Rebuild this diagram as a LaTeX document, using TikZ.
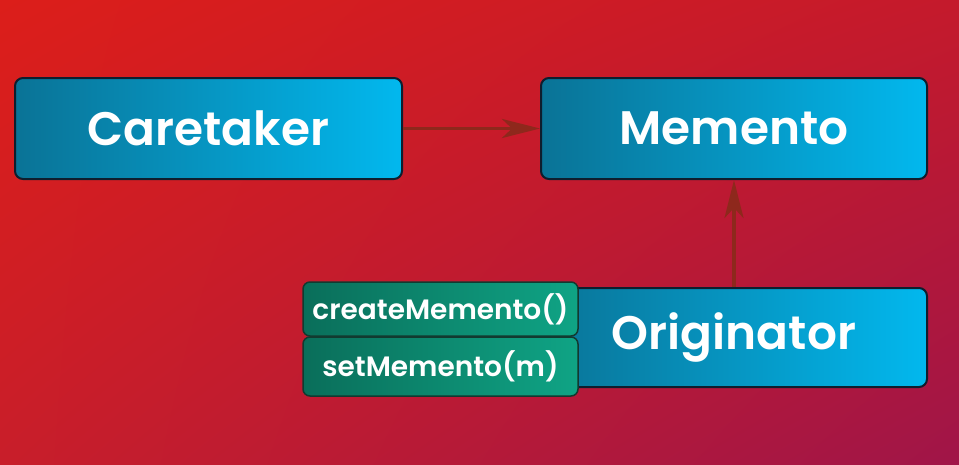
\documentclass[tikz,border=0pt]{standalone}
\usepackage{fontspec}
\setmainfont{Poppins}[BoldFont={* SemiBold}]
\usetikzlibrary{arrows.meta,shadings}
\definecolor{bgTL}{HTML}{DC1E1A}
\definecolor{bgTR}{HTML}{C41A2C}
\definecolor{bgBL}{HTML}{C81E2A}
\definecolor{bgBR}{HTML}{A01548}
\definecolor{boxL}{HTML}{0A7396}
\definecolor{boxR}{HTML}{02B8EE}
\definecolor{boxEdge}{HTML}{0E1E2E}
\definecolor{opL}{HTML}{0A6E5A}
\definecolor{opR}{HTML}{0FA485}
\definecolor{opEdge}{HTML}{123A30}
\definecolor{link}{HTML}{8E281C}
\tikzset{
  classbox/.style={rectangle, rounded corners=8pt, draw=boxEdge, line width=2pt,
    left color=boxL, right color=boxR, inner sep=0pt,
    text=white, font=\fontsize{47}{49}\selectfont\bfseries},
  opbox/.style={rectangle, rounded corners=7pt, draw=opEdge, line width=1.5pt,
    left color=opL, right color=opR, inner sep=0pt, minimum width=275pt,
    text=white, font=\fontsize{28}{30}\selectfont\bfseries},
  link/.style={draw=link, line width=3.5pt, -{Stealth[length=38pt, width=19pt, inset=10pt]}}
}
\begin{document}
\begin{tikzpicture}[x=1pt, y=-1pt]
  % background
  \shade[upper left=bgTL, upper right=bgTR, lower left=bgBL, lower right=bgBR]
    (0,0) rectangle (959,464);
  \useasboundingbox (0,0) rectangle (959,464);

  % class boxes
  \node[classbox, minimum width=387pt, minimum height=101pt] (care) at (208.5,128.5) {Caretaker};
  \node[classbox, minimum width=386pt, minimum height=101pt] (mem) at (734,128.5) {Memento};
  \node[classbox, minimum width=386pt, minimum height=99pt] (orig) at (734,337.5) {Originator};

  % operations of the originator
  \node[opbox, minimum height=54pt] (create) at (440.5,309) {createMemento()};
  \node[opbox, minimum height=59pt] (set) at (440.5,366.5) {setMemento(m)};

  % associations
  \draw[link] (care.east) -- (mem.west);
  \draw[link] (orig.north) -- (mem.south);
\end{tikzpicture}
\end{document}
